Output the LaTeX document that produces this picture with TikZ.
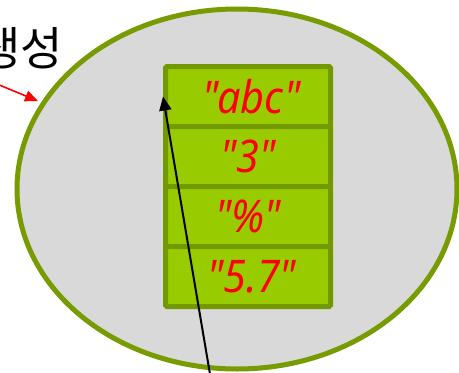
\documentclass[tikz,border=0pt]{standalone}
\usepackage{fontspec}
\newfontfamily\krfont{Noto Sans CJK KR}
\newfontfamily\cellfont[FakeStretch=0.92]{Noto Sans}
\usetikzlibrary{arrows.meta}
\definecolor{ringgreen}{HTML}{779B00}
\definecolor{cellfill}{HTML}{99CC00}
\definecolor{celledge}{HTML}{739900}
\definecolor{bggray}{HTML}{D9D9D9}
\begin{document}
\begin{tikzpicture}[x=1pt,y=-1pt,
  cellbox/.style={draw=celledge, fill=cellfill, line width=5pt, rounded corners=1.5pt,
    minimum width=165pt, minimum height=60pt, inner sep=0pt,
    font=\cellfont\itshape\fontsize{45}{47}\selectfont, text=red}]
\useasboundingbox (0,0) rectangle (459,373);
\fill[white] (0,0) rectangle (459,373);
\draw[draw=ringgreen, fill=bggray, line width=5pt] (237,189) ellipse [x radius=220, y radius=180];
\node[cellbox] (c1) at (248,96.5) {\,"abc"};
\node[cellbox] (c2) at (248,156.5) {"3"};
\node[cellbox] (c3) at (248,216.5) {"\%"};
\node[cellbox] (c4) at (248,276.5) {\,"5.7"};
\node[anchor=base east, inner sep=0pt, font=\krfont\fontsize{46}{48}\selectfont] (lbl) at (63,65) {생성};
\coordinate (rs) at (-20,77);
\coordinate (rt) at (38,101);
\draw[red, line width=1.6pt, -{Triangle[length=13pt,width=11pt]}] (rs) -- (rt);
\coordinate (bs) at (211,380);
\draw[black, line width=2pt, -{Triangle[length=14pt,width=12pt]}] (bs) -- (c1.west);
\end{tikzpicture}
\end{document}
